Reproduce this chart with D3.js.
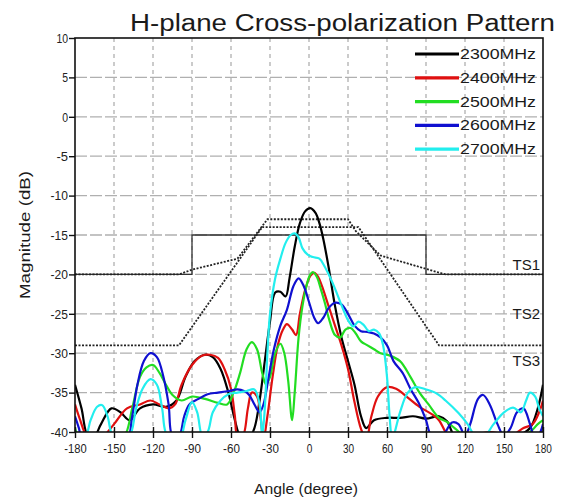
<!DOCTYPE html>
<html>
<head>
<meta charset="utf-8">
<script src="https://cdn.jsdelivr.net/npm/d3@7"></script>
<style>
html,body{margin:0;padding:0;background:#fff;}
svg{display:block;}
</style>
</head>
<body>
<svg id="chart" width="565" height="502"></svg>
<script>
// ---------- DATA ----------
const title = "H-plane Cross-polarization Pattern";
const xLabel = "Angle (degree)";
const yLabel = "Magnitude (dB)";
const xTicks = [-180,-150,-120,-90,-60,-30,0,30,60,90,120,150,180];
const yTicks = [10,5,0,-5,-10,-15,-20,-25,-30,-35,-40];
const seriesNames = ["2300MHz","2400MHz","2500MHz","2600MHz","2700MHz"];
const seriesColors = ["#000000","#e01010","#22dd22","#1010d0","#22eeee"];

const s2300 = [[-180,-34],[-175,-37],[-170,-40.5],[-165,-40.5],[-160,-39],[-152,-37],[-145,-37.5],[-138,-38.5],[-130,-37],[-120,-36.5],[-110,-36.8],[-102,-36],[-95,-33],[-88,-31],[-80,-30.2],[-74,-30.5],[-68,-32],[-62,-35],[-57,-38.5],[-53,-40.5],[-47,-41],[-42,-39.5],[-38,-36],[-34,-31],[-30,-26],[-26,-22.3],[-22,-22.2],[-18,-22.8],[-15,-20.5],[-11,-16.5],[-7,-13.5],[-3,-12],[1,-11.6],[5,-12.2],[8,-13.5],[11,-15.5],[15,-19],[20,-24],[25,-28],[30,-31],[35,-34],[40,-38],[44,-39.5],[50,-38.5],[60,-38.2],[70,-38.2],[80,-38],[90,-38.3],[100,-38],[106,-38.6],[112,-40.5],[120,-41],[140,-41],[160,-40.5],[170,-39.5],[176,-37],[180,-34]];
const s2400 = [[-180,-36.5],[-176,-38.5],[-171,-40.5],[-165,-41],[-158,-40.5],[-150,-39],[-140,-37],[-130,-36.5],[-122,-36],[-115,-36.5],[-108,-37],[-103,-36.5],[-98,-34],[-90,-31.5],[-82,-30.3],[-76,-30.2],[-70,-30.6],[-65,-32],[-60,-34.5],[-57,-38],[-55,-40.5],[-51,-40.5],[-47,-37],[-44,-35],[-40,-35.5],[-37,-38.5],[-35,-41],[-32,-38],[-28,-33],[-24,-29],[-20,-27],[-17,-26.3],[-13,-27],[-10,-27.7],[-7,-25],[-3,-22],[1,-20.2],[4,-19.8],[7,-20.3],[10,-21.5],[15,-24],[20,-26.5],[25,-29],[30,-32],[35,-36.2],[40,-39.6],[44,-41],[48,-38],[53,-35.5],[60,-34.3],[67,-34.5],[75,-35.5],[85,-36.8],[95,-37.8],[100,-38.5],[105,-40],[110,-41],[125,-40.5],[140,-40],[155,-40.5],[165,-39.5],[172,-39],[177,-37.5],[180,-36]];
const s2500 = [[-180,-39.5],[-177,-40.5],[-160,-41],[-150,-41],[-142,-40.5],[-136,-37],[-130,-33],[-125,-31.8],[-120,-31.5],[-115,-32.5],[-110,-34],[-105,-35.3],[-98,-36],[-90,-35.5],[-80,-35.8],[-70,-36.3],[-63,-36.5],[-58,-35],[-53,-32.5],[-48,-29.5],[-44,-28.6],[-40,-29.5],[-36,-32.5],[-33,-34],[-30,-33],[-26,-30],[-22,-28.8],[-19,-30],[-16,-33.5],[-13,-38.5],[-11,-35],[-8,-28],[-5,-24],[-2,-21.5],[1,-20],[3,-19.7],[6,-20.3],[9,-21.8],[12,-23.5],[16,-26],[20,-27.7],[24,-28],[28,-27],[32,-26.8],[36,-27.5],[40,-28.5],[45,-29],[50,-29.5],[55,-30],[62,-30.3],[70,-31],[78,-33],[85,-35],[92,-36.5],[100,-38.2],[106,-38.7],[112,-39.5],[120,-40.5],[140,-41],[160,-40.5],[170,-40],[176,-39],[180,-38.5]];
const s2600 = [[-180,-38],[-177,-39.5],[-174,-41],[-150,-41],[-140,-41],[-136,-38],[-132,-34],[-127,-31],[-122,-30],[-117,-30.5],[-112,-33],[-108,-36.5],[-105,-40.5],[-100,-40.5],[-96,-38],[-92,-36.5],[-85,-35.8],[-78,-35.2],[-70,-35],[-62,-34.8],[-55,-34.6],[-50,-34.8],[-46,-35.3],[-42,-36.5],[-38,-37.5],[-35,-36.5],[-31,-33],[-27,-29.5],[-22,-26.5],[-17,-24.5],[-12,-21.5],[-8,-20.5],[-4,-21.5],[0,-23.5],[4,-25.5],[7,-26.2],[11,-25.5],[15,-24.3],[20,-23.6],[25,-23.8],[30,-25],[35,-26.5],[40,-27.2],[45,-27.3],[50,-27.5],[55,-28],[60,-29],[65,-31],[72,-32.5],[78,-34.5],[85,-36.5],[90,-38.5],[94,-40.5],[100,-41],[105,-40],[110,-38.8],[115,-39],[120,-40.5],[124,-39],[130,-35.8],[134,-35.3],[139,-36.5],[145,-39],[150,-40.5],[155,-39.5],[160,-37.5],[165,-37],[170,-39],[174,-41],[178,-40],[180,-39]];
const s2700 = [[-180,-41],[-172,-40.5],[-168,-38.5],[-163,-36.8],[-159,-36.6],[-155,-38],[-151,-40.5],[-145,-41],[-138,-40.5],[-133,-37],[-128,-34.5],[-122,-33.3],[-117,-34],[-113,-37],[-109,-40.5],[-100,-41],[-95,-38.5],[-90,-36.2],[-86,-37.5],[-82,-40.5],[-78,-40],[-74,-37.5],[-68,-36],[-62,-35.2],[-55,-35],[-48,-34.8],[-42,-34.6],[-38,-36.5],[-36,-40.5],[-34,-37],[-32,-30],[-30,-25],[-26,-20.5],[-22,-18],[-18,-16],[-14,-15],[-11,-14.8],[-8,-15.3],[-5,-16.7],[-1,-17.5],[3,-17.8],[8,-18],[12,-19],[16,-20.3],[20,-21.8],[25,-23.9],[30,-25.8],[34,-26.6],[38,-26],[42,-26.4],[46,-27.2],[50,-27],[54,-27.5],[57,-29],[60,-33],[62,-38],[64,-41],[66,-40],[70,-37.5],[76,-35],[82,-34.3],[90,-34.6],[98,-35.1],[105,-36],[115,-37.6],[122,-39],[128,-40.5],[135,-40.5],[142,-39],[150,-37.5],[157,-36.9],[163,-37.5],[167,-36],[170,-35],[174,-35.5],[177,-37],[180,-38]];
const seriesData = [s2300, s2400, s2500, s2600, s2700];

// Spec masks
const maskStep = [[-180,-20],[-90,-20],[-90,-15],[90,-15],[90,-20],[180,-20]];
const maskTS1 = [[-180,-20],[-100,-20],[-90,-19.4],[-55,-18],[-32,-13],[30,-13],[36,-14.5],[55,-17.6],[90,-19.3],[105,-20],[180,-20]];
const maskTS2 = [[-180,-29],[-100,-29],[-36,-14],[38,-14],[100,-29],[180,-29]];
const maskLabels = ["TS1","TS2","TS3"];
const maskLabelValues = [-19.5,-25.6,-31.6];

// ---------- LAYOUT ----------
const svg = d3.select("#chart");
const L = 75, R = 543, T = 38, B = 432;
const x = d3.scaleLinear().domain([-180,180]).range([L,R]);
const y = d3.scaleLinear().domain([-40,10]).range([B,T]);
const font = "'Liberation Sans Narrow','Arial Narrow','Liberation Sans',Arial,sans-serif";

svg.append("rect").attr("width",565).attr("height",502).attr("fill","#fff");

svg.append("defs").append("clipPath").attr("id","plotclip")
  .append("rect").attr("x",L).attr("y",T).attr("width",R-L).attr("height",B-T);

// grid
const grid = svg.append("g");
grid.selectAll("line.h").data(yTicks.slice(1,-1)).join("line")
  .attr("x1",L).attr("x2",R).attr("y1",d=>y(d)).attr("y2",d=>y(d))
  .attr("stroke","#b0b0b0").attr("stroke-width",1.3).attr("stroke-dasharray","12,3");
grid.selectAll("line.v").data(xTicks.slice(1,-1)).join("line")
  .attr("x1",d=>x(d)).attr("x2",d=>x(d)).attr("y1",T).attr("y2",B)
  .attr("stroke","#b0b0b0").attr("stroke-width",1.3).attr("stroke-dasharray","4,4");

const plot = svg.append("g").attr("clip-path","url(#plotclip)");
const line = d3.line().x(d=>x(d[0])).y(d=>y(d[1]));

// masks
plot.append("path").datum(maskStep).attr("d",line)
  .attr("fill","none").attr("stroke","#333").attr("stroke-width",1.3);
plot.append("path").datum(maskTS1).attr("d",line)
  .attr("fill","none").attr("stroke","#222").attr("stroke-width",1.8).attr("stroke-dasharray","2,1.5");
plot.append("path").datum(maskTS2).attr("d",line)
  .attr("fill","none").attr("stroke","#222").attr("stroke-width",1.8).attr("stroke-dasharray","2,1.5");

// series
const curve = d3.line().x(d=>x(d[0])).y(d=>y(d[1])).curve(d3.curveCatmullRom.alpha(0.5));
plot.selectAll("path.s").data(seriesData).join("path")
  .attr("class","s")
  .attr("d",curve).attr("fill","none")
  .attr("stroke",(d,i)=>seriesColors[i]).attr("stroke-width",2.2)
  .attr("stroke-linejoin","round");

// frame
svg.append("rect").attr("x",L).attr("y",T).attr("width",R-L).attr("height",B-T)
  .attr("fill","none").attr("stroke","#111").attr("stroke-width",1.6);

// y axis
const yAxis = d3.axisLeft(y).tickValues(yTicks).tickSize(6).tickFormat(d=>String(d));
const ya = svg.append("g").attr("transform",`translate(${L},0)`).call(yAxis);
ya.select(".domain").remove();
ya.selectAll(".tick line").attr("stroke","#111").attr("stroke-width",1.4);
ya.selectAll(".tick text").attr("font-family",font).attr("font-size",12.5).attr("fill","#222")
  .attr("x",-7).attr("dy","0.35em")
  .attr("textLength",d=>String(d).length*5.8).attr("lengthAdjust","spacingAndGlyphs");

// x axis
const xAxis = d3.axisBottom(x).tickValues(xTicks).tickSize(6).tickFormat(d=>String(d));
const xa = svg.append("g").attr("transform",`translate(0,${B})`).call(xAxis);
xa.select(".domain").remove();
xa.selectAll(".tick line").attr("stroke","#111").attr("stroke-width",1.4).attr("y1",-5).attr("y2",6);
xa.selectAll(".tick text").attr("font-family",font).attr("font-size",12.5).attr("fill","#222").attr("y",12)
  .attr("textLength",d=>String(d).length*5.6).attr("lengthAdjust","spacingAndGlyphs");

// title
svg.append("text").attr("x",130).attr("y",31).attr("font-family",font).attr("font-size",23)
  .attr("fill","#1a1a1a").attr("textLength",425).attr("lengthAdjust","spacingAndGlyphs").text(title);

// axis labels
svg.append("text").attr("x",306).attr("y",494).attr("text-anchor","middle").attr("font-family",font)
  .attr("font-size",15).attr("fill","#1a1a1a").attr("textLength",104).attr("lengthAdjust","spacingAndGlyphs").text(xLabel);
svg.append("text").attr("transform","translate(30,235) rotate(-90)").attr("text-anchor","middle")
  .attr("font-family",font).attr("font-size",15).attr("fill","#1a1a1a")
  .attr("textLength",128).attr("lengthAdjust","spacingAndGlyphs").text(yLabel);

// TS labels
svg.selectAll("text.ts").data(maskLabels).join("text").attr("class","ts")
  .attr("x",540).attr("y",(d,i)=>y(maskLabelValues[i])).attr("text-anchor","end")
  .attr("font-family",font).attr("font-size",15).attr("fill","#1a1a1a").text(d=>d);

// legend
const lg = svg.append("g");
seriesNames.forEach((n,i)=>{
  const yy = 54 + i*23.8;
  lg.append("line").attr("x1",415).attr("x2",459).attr("y1",yy).attr("y2",yy)
    .attr("stroke",seriesColors[i]).attr("stroke-width",3.2);
  lg.append("text").attr("x",460).attr("y",yy+5).attr("font-family",font).attr("font-size",14.5)
    .attr("fill","#1a1a1a").attr("textLength",76).attr("lengthAdjust","spacingAndGlyphs").text(n);
});
</script>
</body>
</html>
